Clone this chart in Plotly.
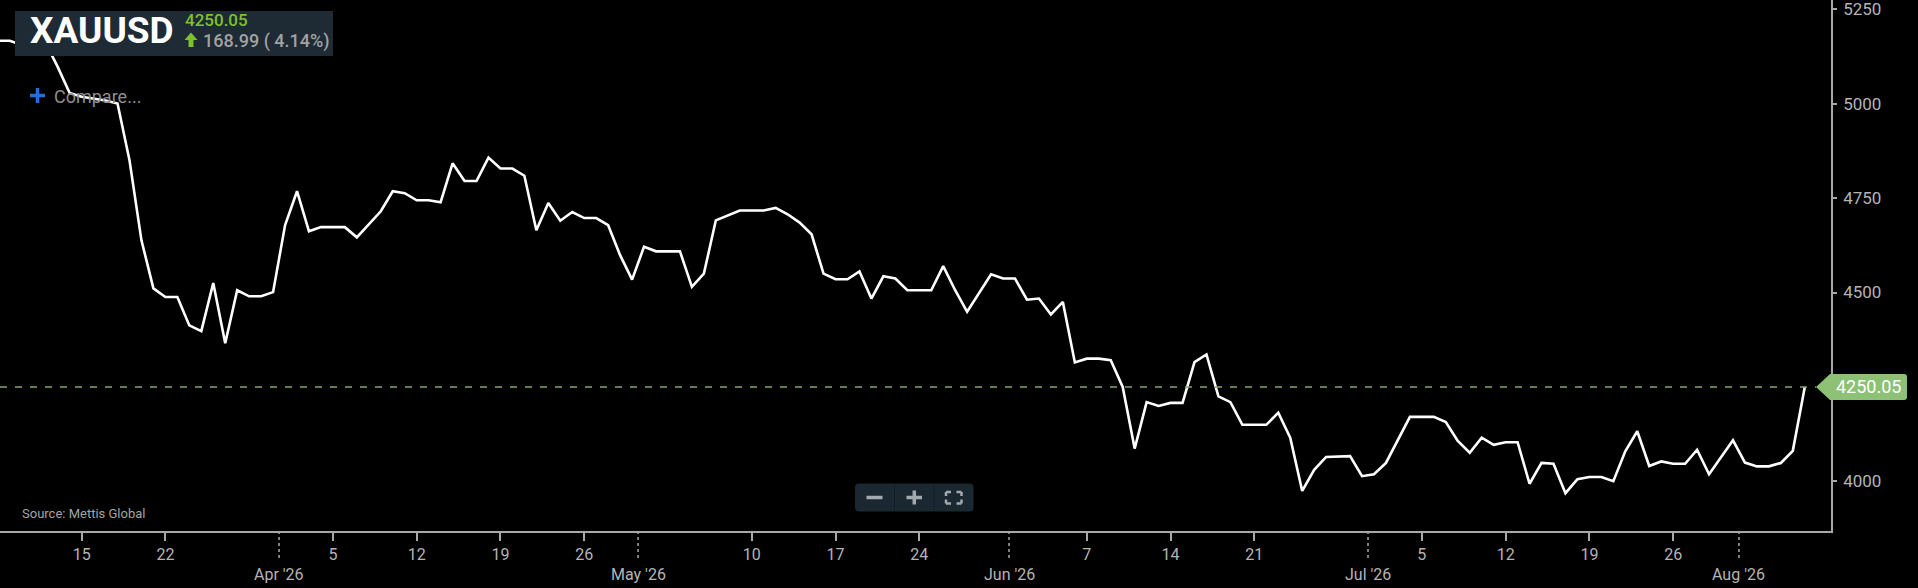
import pandas as pd
import plotly.graph_objects as go

# XAUUSD daily closes, one value per calendar day from 8 Mar 2026
start_date = "2026-03-08"
mar = [5166, 5166, 5155, 5157, 5160, 5097, 5028, 5018, 5013, 5008, 5000, 4850,
       4638, 4511, 4488, 4488, 4413, 4398, 4525, 4366, 4506, 4490, 4490, 4501]
apr = [4678, 4768, 4662, 4673, 4673, 4673, 4646, 4681, 4715, 4768, 4763, 4744,
       4744, 4739, 4842, 4795, 4795, 4857, 4828, 4828, 4809, 4665, 4737, 4690,
       4713, 4697, 4697, 4678, 4599, 4534]
may = [4621, 4609, 4609, 4609, 4515, 4550, 4691, 4705, 4717, 4717, 4717, 4724,
       4707, 4685, 4654, 4550, 4535, 4535, 4556, 4484, 4543, 4537, 4506, 4506,
       4506, 4570, 4506, 4449, 4497, 4548, 4537]
jun = [4537, 4481, 4484, 4442, 4475, 4315, 4325, 4325, 4321, 4250, 4087, 4210,
       4200, 4208, 4208, 4316, 4336, 4225, 4210, 4150, 4150, 4150, 4182, 4116,
       3975, 4031, 4065, 4067, 4067, 4014]
jul = [4019, 4049, 4109, 4171, 4171, 4171, 4157, 4107, 4076, 4116, 4097, 4104,
       4104, 3994, 4049, 4047, 3969, 4006, 4012, 4012, 4001, 4080, 4133, 4041,
       4053, 4047, 4047, 4084, 4019, 4065, 4109]
aug = [4050, 4040, 4040, 4049, 4081.06, 4250.05]

week_ticks = ["2026-03-08", "2026-03-15", "2026-03-22", "2026-04-05", "2026-04-12",
              "2026-04-19", "2026-04-26", "2026-05-10", "2026-05-17", "2026-05-24",
              "2026-06-07", "2026-06-14", "2026-06-21", "2026-07-05", "2026-07-12",
              "2026-07-19", "2026-07-26"]
week_labels = ["8", "15", "22", "5", "12", "19", "26", "10", "17", "24", "7", "14",
               "21", "5", "12", "19", "26"]
month_ticks = ["2026-03-31 12:00", "2026-04-30 12:00", "2026-05-31 12:00",
               "2026-06-30 12:00", "2026-07-31 12:00"]
month_labels = ["Apr '26", "May '26", "Jun '26", "Jul '26", "Aug '26"]
y_ticks = [4000, 4500, 4750, 5000, 5250]

symbol = "XAUUSD"
source = "Source: Mettis Global"

closes = mar + apr + may + jun + jul + aug
dates = pd.date_range(start_date, periods=len(closes), freq="D")
last = closes[-1]
change = last - closes[-2]
pct = change / closes[-2] * 100

X_RANGE = ["2026-03-08 04:18", "2026-08-08 04:34"]
Y_RANGE = [3869, 5274]

# plot area in pixels (margins l=0, t=0)
PW, PH = 1831, 531
FONT = "Roboto, 'Open Sans', sans-serif"
AXIS_GREY = "#a8a8a8"
LABEL_GREY = "#b4b4b4"
PANEL = "#1e2a34"
GREEN = "#8cc176"


def px(x):
    return x / PW


def py(y):
    return 1 - y / PH


def ypaper(v):
    return (v - Y_RANGE[0]) / (Y_RANGE[1] - Y_RANGE[0])


def rect_path(x0, y0, x1, y1, r=3):
    return (f"M{px(x0 + r)},{py(y0)} L{px(x1 - r)},{py(y0)} "
            f"Q{px(x1)},{py(y0)} {px(x1)},{py(y0 + r)} L{px(x1)},{py(y1 - r)} "
            f"Q{px(x1)},{py(y1)} {px(x1 - r)},{py(y1)} L{px(x0 + r)},{py(y1)} "
            f"Q{px(x0)},{py(y1)} {px(x0)},{py(y1 - r)} L{px(x0)},{py(y0 + r)} "
            f"Q{px(x0)},{py(y0)} {px(x0 + r)},{py(y0)} Z")


def pline(x0, y0, x1, y1, color, width):
    return dict(type="line", xref="paper", yref="paper",
                x0=px(x0), y0=py(y0), x1=px(x1), y1=py(y1),
                line=dict(color=color, width=width))


fig = go.Figure()

fig.add_trace(go.Scatter(
    x=dates, y=closes,
    mode="lines",
    line=dict(color="white", width=2.6),
    hoverinfo="x+y",
    showlegend=False,
))

shapes = []

# last price dashed line + price tag
shapes.append(dict(type="line", xref="paper", yref="y", x0=0, x1=px(1816), y0=last, y1=last,
                   line=dict(color="#7fa866", width=1.5, dash="7px,8px")))
yc = ypaper(last)
hh = 13 / PH
tag = (f"M{px(1816)},{yc} L{px(1830)},{yc + hh} L{px(1904)},{yc + hh} "
       f"Q{px(1907)},{yc + hh} {px(1907)},{yc + hh - 3 / PH} L{px(1907)},{yc - hh + 3 / PH} "
       f"Q{px(1907)},{yc - hh} {px(1904)},{yc - hh} L{px(1830)},{yc - hh} Z")
shapes.append(dict(type="path", xref="paper", yref="paper", path=tag,
                   fillcolor=GREEN, line=dict(width=0)))

# dotted month ticks below the axis
for m in month_ticks:
    shapes.append(dict(type="line", xref="x", yref="paper", x0=m, x1=m,
                       y0=py(531), y1=py(559),
                       line=dict(color=AXIS_GREY, width=1.5, dash="dot")))

# symbol panel
shapes.append(dict(type="rect", xref="paper", yref="paper",
                   x0=px(15), x1=px(333), y0=py(11), y1=py(56),
                   fillcolor=PANEL, line=dict(width=0)))
# green up arrow
arrow = (f"M{px(191)},{py(32.5)} L{px(197.5)},{py(40)} L{px(193.5)},{py(40)} "
         f"L{px(193.5)},{py(47)} L{px(188.5)},{py(47)} L{px(188.5)},{py(40)} "
         f"L{px(184.5)},{py(40)} Z")
shapes.append(dict(type="path", xref="paper", yref="paper", path=arrow,
                   fillcolor="#7cc22c", line=dict(width=0)))

# compare plus
shapes.append(pline(30, 95.5, 45, 95.5, "#1f6fd6", 3.5))
shapes.append(pline(37.5, 88, 37.5, 103, "#1f6fd6", 3.5))

# zoom control
shapes.append(dict(type="path", xref="paper", yref="paper",
                   path=rect_path(855, 483.5, 973.5, 511.5, 4),
                   fillcolor="#1b2831", line=dict(width=0)))
shapes.append(pline(894.5, 485, 894.5, 510, "#131d24", 1))
shapes.append(pline(934, 485, 934, 510, "#131d24", 1))
ICON = "#a2aab0"
shapes.append(pline(866.5, 497.5, 882.5, 497.5, ICON, 3.5))
shapes.append(pline(906.5, 497.5, 922, 497.5, ICON, 3.5))
shapes.append(pline(914.3, 490.5, 914.3, 504.5, ICON, 3.5))
for cx, cy, dx, dy in [(946, 492, 1, 1), (961.5, 492, -1, 1),
                       (946, 503.5, 1, -1), (961.5, 503.5, -1, -1)]:
    shapes.append(pline(cx, cy, cx + 5 * dx, cy, ICON, 2.5))
    shapes.append(pline(cx, cy, cx, cy + 4 * dy, ICON, 2.5))

annotations = []
for m, lab in zip(month_ticks, month_labels):
    annotations.append(dict(xref="x", yref="paper", x=m, y=py(574), text=lab,
                            showarrow=False, xanchor="center", yanchor="middle",
                            font=dict(family=FONT, size=16, color=LABEL_GREY)))

annotations += [
    dict(xref="paper", yref="paper", x=px(1868), y=yc, text=f"{last:.2f}",
         showarrow=False, xanchor="center", yanchor="middle",
         font=dict(family=FONT, size=18, color="white")),
    dict(xref="paper", yref="paper", x=px(28), y=py(31), text=f"<b>{symbol}</b>",
         showarrow=False, xanchor="left", yanchor="middle",
         font=dict(family=FONT, size=37, color="white")),
    dict(xref="paper", yref="paper", x=px(183), y=py(20.5), text=f"{last:.2f}",
         showarrow=False, xanchor="left", yanchor="middle",
         font=dict(family=FONT, size=17, color="#7cc22c", weight=500)),
    dict(xref="paper", yref="paper", x=px(201), y=py(40.5),
         text=f"{change:.2f} ( {pct:.2f}%)",
         showarrow=False, xanchor="left", yanchor="middle",
         font=dict(family=FONT, size=18, color="#a2a2a2", weight=500)),
    dict(xref="paper", yref="paper", x=px(52), y=py(96), text="Compare...",
         showarrow=False, xanchor="left", yanchor="middle",
         font=dict(family=FONT, size=18, color="#8e8e8e")),
    dict(xref="paper", yref="paper", x=px(20), y=py(513), text=source,
         showarrow=False, xanchor="left", yanchor="middle",
         font=dict(family=FONT, size=13, color="#a4a4a4")),
]

fig.update_layout(
    width=1918, height=588,
    margin=dict(l=0, r=87, t=0, b=57, pad=0),
    paper_bgcolor="black", plot_bgcolor="black",
    showlegend=False,
    hovermode="x",
    xaxis=dict(
        range=X_RANGE, showgrid=False, zeroline=False,
        showline=True, linecolor=AXIS_GREY, linewidth=1.5,
        ticks="outside", ticklen=8, tickwidth=1.5, tickcolor=AXIS_GREY,
        tickvals=week_ticks, ticktext=week_labels, ticklabeloverflow="allow",
        tickfont=dict(family=FONT, size=16, color=LABEL_GREY),
    ),
    yaxis=dict(
        range=Y_RANGE, side="right", showgrid=False, zeroline=False,
        showline=True, linecolor=AXIS_GREY, linewidth=1.5,
        ticks="outside", ticklen=4, tickwidth=1.5, tickcolor=AXIS_GREY,
        tickvals=y_ticks, ticklabelstandoff=3, ticklabeloverflow="allow",
        tickfont=dict(family=FONT, size=17, color=LABEL_GREY),
    ),
    shapes=shapes,
    annotations=annotations,
)

fig.write_html("out.html", config={"displayModeBar": False},
               post_script="document.body.style.margin='0';")
